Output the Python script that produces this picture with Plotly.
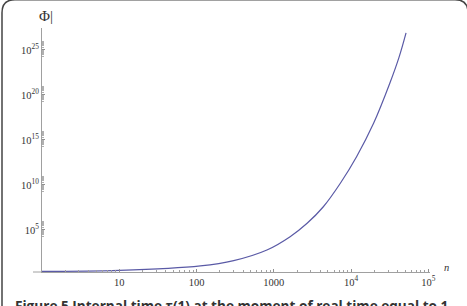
import plotly.graph_objects as go

# Data (n vs internal time tau(1))
n_vals = [1, 10, 112, 302, 813, 1622, 2692, 4365, 7244, 11749, 19498, 31623, 41687, 51286]
tau_vals = [2.45, 3.16, 10, 39, 589, 1.78e4, 5.5e5, 3.8e7, 1.55e10, 1.38e13, 7.1e16, 2e21, 1.6e24, 7.9e26]

x_tickvals = [10, 100, 1000, 1e4, 1e5]
x_ticktext = ["10", "100", "1000", "10<sup>4</sup>", "10<sup>5</sup>"]
y_tickvals = [1e5, 1e10, 1e15, 1e20, 1e25]
y_ticktext = ["10<sup>5</sup>", "10<sup>10</sup>", "10<sup>15</sup>", "10<sup>20</sup>", "10<sup>25</sup>"]

W, H = 467, 306
ML, MR, MT, MB = 42, 37, 28, 34
PW, PH = W - ML - MR, H - MT - MB

def px(x):
    return (x - ML) / PW

def py(y):
    return (H - MB - y) / PH

fig = go.Figure()
fig.add_trace(go.Scatter(x=n_vals, y=tau_vals, mode="lines",
                         line=dict(color="#5a5aa6", width=1.2, shape="spline", smoothing=1.0),
                         hoverinfo="skip", showlegend=False))

x_minor = [float(k) * 10.0 ** e for e in range(0, 5) for k in range(2, 10)]
y_minor = [float(k) * 10.0 ** e for e in (4, 5, 9, 10, 14, 15, 19, 20, 24, 25) for k in range(2, 10)]

serif = "Liberation Serif"
fig.update_xaxes(type="log", range=[0, 5.02], showgrid=False, zeroline=False,
                 showline=True, linecolor="#a0a0a0", linewidth=1,
                 tickvals=x_tickvals, ticktext=x_ticktext,
                 ticks="inside", ticklen=3, tickcolor="#909090",
                 tickfont=dict(family=serif, size=10.5, color="#333"),
                 minor=dict(tickvals=x_minor, ticks="inside", ticklen=2, tickcolor="#a0a0a0"))
fig.update_yaxes(type="log", range=[0.33, 27.44], showgrid=False, zeroline=False,
                 showline=True, linecolor="#a0a0a0", linewidth=1,
                 tickvals=y_tickvals, ticktext=y_ticktext,
                 ticks="inside", ticklen=3, tickcolor="#909090",
                 tickfont=dict(family=serif, size=10.5, color="#333"),
                 minor=dict(tickvals=y_minor, ticks="inside", ticklen=2, tickcolor="#b0b0b0"))

# frame (rounded rectangle, bottom beyond view)
L, T, R, B, r = 2, -0.3, 468, 330, 13
path = (f"M {px(L)},{py(B)} L {px(L)},{py(T + r)} Q {px(L)},{py(T)} {px(L + r)},{py(T)} "
        f"L {px(R - r)},{py(T)} Q {px(R)},{py(T)} {px(R)},{py(T + r)} L {px(R)},{py(B)}")
shapes = [
    dict(type="path", path=path, xref="paper", yref="paper",
         line=dict(color="#444", width=1.5)),
    dict(type="line", xref="paper", yref="paper", x0=px(33), x1=px(42), y0=0, y1=0,
         line=dict(color="#a0a0a0", width=1)),
]

annotations = [
    dict(text="Φ|", x=px(46), y=py(16), xref="paper", yref="paper", showarrow=False,
         font=dict(family=serif, size=15, color="#333"), xanchor="center", yanchor="middle"),
    dict(text="<i>n</i>", x=px(442), y=py(267), xref="paper", yref="paper", showarrow=False,
         font=dict(family=serif, size=10.5, color="#333"), xanchor="left", yanchor="middle"),
    dict(text="<b>Figure 5 Internal time τ(1) at the moment of real time equal to 1</b>",
         x=px(13), y=py(294), xref="paper", yref="paper", showarrow=False,
         font=dict(family="Open Sans", size=13.6, color="#333"), xanchor="left", yanchor="top"),
]

fig.update_layout(width=W, height=H, margin=dict(l=ML, r=MR, t=MT, b=MB),
                  paper_bgcolor="white", plot_bgcolor="white",
                  shapes=shapes, annotations=annotations)

fig.write_html("out.html")
